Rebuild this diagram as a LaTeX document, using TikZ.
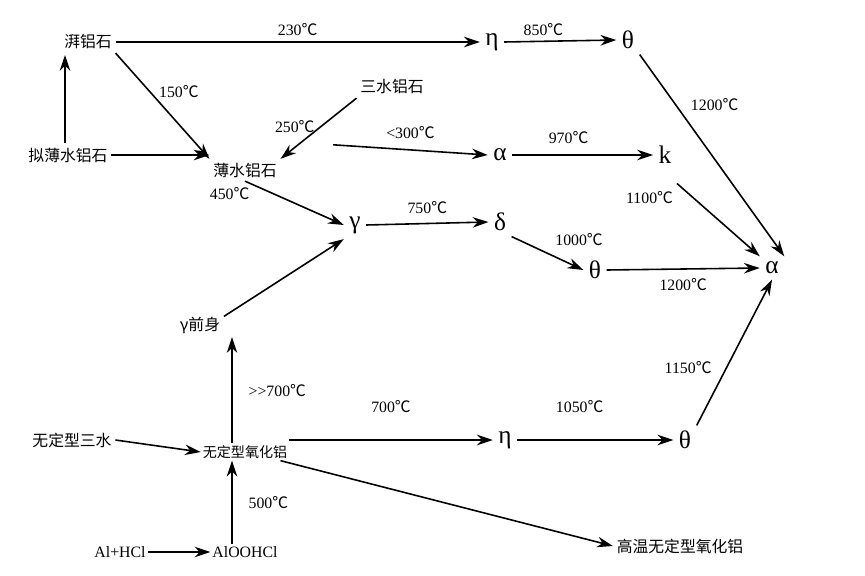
\documentclass[tikz,border=0pt]{standalone}
\usepackage{fontspec}
\setmainfont{Liberation Serif}
\newfontfamily\cjk{Noto Sans CJK SC}
\newcommand\degc{{\cjk ℃}}
\usetikzlibrary{arrows.meta}
\begin{document}
\begin{tikzpicture}[x=0.02cm,y=-0.02cm,
  lab/.style={font=\cjk\small,inner sep=2pt},
  g/.style={font=\Large,inner sep=3pt},
  tl/.style={font=\small,inner sep=1pt},
  ar/.style={-{Stealth[length=9pt,width=6pt]},line width=0.9pt}]
\useasboundingbox (0,0) rectangle (865,575);
\node[lab] (bay) at (88,42) {湃铝石};
\node[lab] (pseudo) at (68,155) {拟薄水铝石};
\node[lab] (boeh) at (245,170) {薄水铝石};
\node[lab] (gib) at (392,87) {三水铝石};
\node[g] (eta1) at (492,42) {η};
\node[g] (th1) at (628,40) {θ};
\node[g] (al1) at (500,155) {α};
\node[g] (k) at (665,155) {k};
\node[g] (gam) at (355,225) {γ};
\node[g] (del) at (500,222) {δ};
\node[g] (th2) at (595,270) {θ};
\node[g] (alr) at (772,268) {α};
\node[lab] (pre) at (200,325) {γ前身};
\node[lab] (amw) at (72,440) {无定型三水};
\node[tl,font=\cjk\footnotesize] (amo) at (245,452) {无定型氧化铝};
\node[g] (eta2) at (505,440) {η};
\node[g] (th3) at (685,440) {θ};
\node[tl] (alh) at (120,552) {Al+HCl};
\node[tl] (aloo) at (245,552) {AlOOHCl};
\node[lab] (hot) at (680,546) {高温无定型氧化铝};
\coordinate (c1) at (65,143);
\coordinate (c2) at (65,55);
\coordinate (bt) at (232,438);
\coordinate (ab) at (232,532);
\draw[ar] (bay.east) -- (eta1.west) node[tl,midway,above=2pt] {230\degc};
\draw[ar] (eta1.east) -- (th1.west) node[tl,pos=0.35,above=2pt] {850\degc};
\draw[ar] (th1.south east) -- (alr.north east) node[tl,pos=0.3,xshift=18pt,yshift=6pt] {1200\degc};
\draw[ar] (c1) -- (c2);
\draw[ar] (pseudo.east) -- (boeh.west |- pseudo.east);
\draw[ar] (bay.south east) -- (boeh.north west) node[tl,pos=0.45,xshift=12pt,yshift=5pt] {150\degc};
\draw[ar] (gib.south west) -- (boeh.north east) node[tl,pos=0.35,xshift=-20pt,yshift=-4pt] {250\degc};
\draw[ar] ([xshift=30pt,yshift=8pt]boeh.north east) -- (al1.west) node[tl,midway,above=5pt] {<300\degc};
\draw[ar] (al1.east) -- (k.west) node[tl,pos=0.4,above=5pt] {970\degc};
\draw[ar] ([yshift=-8pt]k.south east) -- (alr.north west) node[tl,pos=0.2,xshift=-25pt] {1100\degc};
\draw[ar] (boeh.south) -- (gam.west) node[tl,pos=0.2,xshift=-20pt,yshift=-2pt] {450\degc};
\draw[ar] (gam.east) -- (del.west) node[tl,midway,above=4pt] {750\degc};
\draw[ar] (del.south east) -- (th2.west) node[tl,pos=0.5,xshift=18pt,yshift=8pt] {1000\degc};
\draw[ar] (th2.east) -- (alr.west) node[tl,pos=0.5,below=4pt] {1200\degc};
\draw[ar] ([yshift=-2pt]pre.north east) -- (gam.south west);
\draw[ar] (amo.north -| bt) -- (pre.south -| bt) node[tl,midway,right=8pt] {>{}>700\degc};
\draw[ar] (amw.east) -- (amo.west);
\draw[ar] (amo.east |- eta2) -- (eta2.west) node[tl,midway,above=14pt] {700\degc};
\draw[ar] (eta2.east) -- (th3.west) node[tl,pos=0.4,above=14pt] {1050\degc};
\draw[ar] (th3.north east) -- (alr.south) node[tl,pos=0.4,xshift=-22pt] {1150\degc};
\draw[ar] (aloo.north -| ab) -- (amo.south -| ab) node[tl,midway,right=8pt] {500\degc};
\draw[ar] (alh.east) -- (aloo.west);
\draw[ar] ([xshift=-5pt]amo.south east) -- (hot.west);
\end{tikzpicture}
\end{document}
